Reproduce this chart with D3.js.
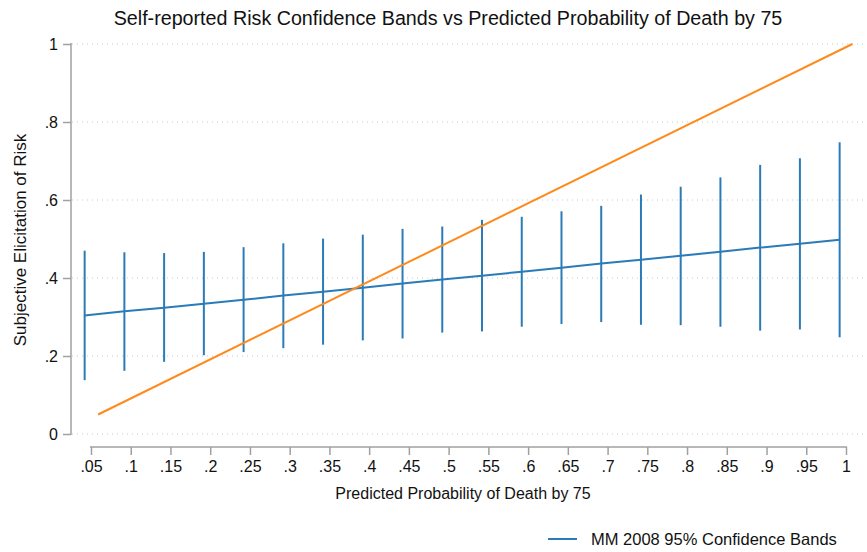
<!DOCTYPE html>
<head>
<meta charset="utf-8">
<title>Risk Confidence Bands</title>
<script src="https://d3js.org/d3.v7.min.js"></script>
<style>
  body { margin: 0; background: #fff; }
  text { font-family: "Liberation Sans", Arial, sans-serif; fill: #111; }
</style>
</head>
<body>
<div id="chart"></div>
<script>

  // bar positions (mean predicted probability in each bin)
  var binX = [0.042, 0.092, 0.142, 0.192, 0.242, 0.292, 0.342, 0.392, 0.442, 0.492,
              0.542, 0.592, 0.642, 0.692, 0.742, 0.792, 0.842, 0.892, 0.942, 0.992];
  var fitted = [0.304, 0.315, 0.324, 0.334, 0.344, 0.355, 0.365, 0.375, 0.386, 0.396,
                0.406, 0.416, 0.426, 0.437, 0.447, 0.457, 0.467, 0.478, 0.488, 0.498];
  var upper = [0.470, 0.466, 0.464, 0.467, 0.479, 0.489, 0.501, 0.511, 0.526, 0.532,
               0.549, 0.557, 0.571, 0.585, 0.614, 0.634, 0.658, 0.690, 0.707, 0.748];
  var lower = [0.138, 0.162, 0.185, 0.202, 0.210, 0.220, 0.229, 0.240, 0.245, 0.260,
               0.263, 0.275, 0.282, 0.287, 0.280, 0.279, 0.275, 0.265, 0.268, 0.248];

  // 45 degree reference line
  var refX = [0.059, 1.008];
  var refY = [0.05, 1.0];

  var xTicks = [0.05, 0.1, 0.15, 0.2, 0.25, 0.3, 0.35, 0.4, 0.45, 0.5,
                0.55, 0.6, 0.65, 0.7, 0.75, 0.8, 0.85, 0.9, 0.95, 1];
  var yTicks = [0, 0.2, 0.4, 0.6, 0.8, 1];

  var blue = "#2a7bb8", orange = "#ff8a1c";

  var W = 867, H = 552;
  var svg = d3.select("#chart").append("svg")
      .attr("width", W).attr("height", H);

  var x = d3.scaleLinear().domain([0.05, 1]).range([91, 846]);
  var y = d3.scaleLinear().domain([0, 1]).range([434, 44]);

  var fmt = function(d) { return d === 0 || d === 1 ? String(d) : String(d).replace(/^0/, ""); };

  // gridlines
  svg.append("g")
    .selectAll("line")
    .data(yTicks)
    .enter()
    .append("line")
      .attr("x1", 72).attr("x2", W)
      .attr("y1", function(d) { return y(d); })
      .attr("y2", function(d) { return y(d); })
      .style("stroke", "#c8c8c8")
      .style("stroke-width", 1)
      .style("stroke-dasharray", "1,4");

  // y axis
  var yAxis = svg.append("g")
    .attr("transform", "translate(71,0)")
    .call(d3.axisLeft(y).tickValues(yTicks).tickFormat(fmt).tickSize(8).tickPadding(5));
  yAxis.select(".domain").attr("d", "M0," + (y(0) + 1) + "V" + (y(1) - 1))
    .style("stroke", "#a0a0a0").style("stroke-width", 1.5);
  yAxis.selectAll(".tick line").style("stroke", "#a0a0a0").style("stroke-width", 1.5);
  yAxis.selectAll(".tick text").style("font-size", "16px").style("fill", "#111")
    .style("font-family", "Liberation Sans, Arial, sans-serif");

  // x axis
  var xAxis = svg.append("g")
    .attr("transform", "translate(0,447)")
    .call(d3.axisBottom(x).tickValues(xTicks).tickFormat(fmt).tickSize(8).tickPadding(6));
  xAxis.select(".domain").attr("d", "M" + (x(0.05) - 1) + ",0H" + (x(1) + 1))
    .style("stroke", "#a0a0a0").style("stroke-width", 1.5);
  xAxis.selectAll(".tick line").style("stroke", "#a0a0a0").style("stroke-width", 1.5);
  xAxis.selectAll(".tick text").style("font-size", "16px").style("fill", "#111")
    .style("font-family", "Liberation Sans, Arial, sans-serif");

  // confidence bands
  svg.append("g")
    .selectAll("line")
    .data(binX)
    .enter()
    .append("line")
      .attr("x1", function(d) { return x(d); })
      .attr("x2", function(d) { return x(d); })
      .attr("y1", function(d, i) { return y(lower[i]); })
      .attr("y2", function(d, i) { return y(upper[i]); })
      .style("stroke", blue)
      .style("stroke-width", 2);

  // fitted line
  var line = d3.line()
    .x(function(d) { return x(d[0]); })
    .y(function(d) { return y(d[1]); });

  svg.append("path")
    .datum(d3.zip(binX, fitted))
    .attr("d", line)
    .style("fill", "none")
    .style("stroke", blue)
    .style("stroke-width", 2);

  svg.append("path")
    .datum(d3.zip(refX, refY))
    .attr("d", line)
    .style("fill", "none")
    .style("stroke", orange)
    .style("stroke-width", 2);

  // titles
  svg.append("text")
    .attr("x", 448).attr("y", 25)
    .style("text-anchor", "middle")
    .style("font-size", "19.7px")
    .text("Self-reported Risk Confidence Bands vs Predicted Probability of Death by 75");

  svg.append("text")
    .attr("x", 463).attr("y", 499)
    .style("text-anchor", "middle")
    .style("font-size", "16px")
    .text("Predicted Probability of Death by 75");

  svg.append("text")
    .attr("transform", "translate(26,240) rotate(-90)")
    .style("text-anchor", "middle")
    .style("font-size", "17px")
    .text("Subjective Elicitation of Risk");

  // legend
  svg.append("line")
    .attr("x1", 548).attr("x2", 577)
    .attr("y1", 539).attr("y2", 539)
    .style("stroke", blue)
    .style("stroke-width", 2);
  svg.append("text")
    .attr("x", 591).attr("y", 545)
    .style("font-size", "16.5px")
    .text("MM 2008 95% Confidence Bands");

</script>
</body>
